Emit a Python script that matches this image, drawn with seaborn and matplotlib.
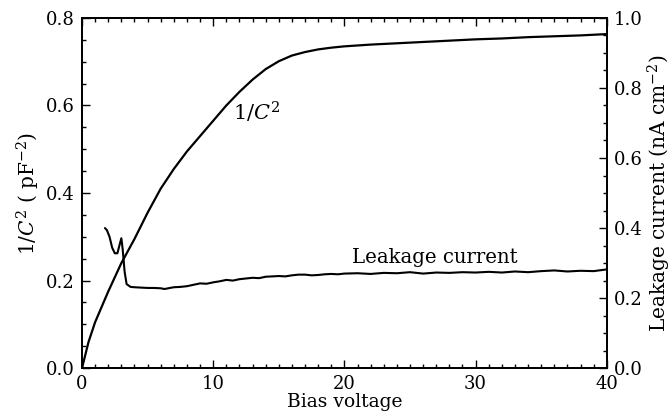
import matplotlib
matplotlib.use("Agg")
import matplotlib.pyplot as plt
from matplotlib.ticker import MultipleLocator
import seaborn as sns
import pandas as pd

# 1/C^2 curve (pF^-2) vs bias voltage
cap_x = [0, 0.5, 1, 1.5, 2, 3, 4, 5, 6, 7, 8, 9, 10, 11, 12, 13, 14, 15, 16, 17,
         18, 19, 20, 22, 24, 26, 28, 30, 32, 34, 36, 38, 40]
cap_y = [0.0, 0.06, 0.105, 0.14, 0.175, 0.24, 0.295, 0.355, 0.41, 0.455, 0.495,
         0.53, 0.565, 0.60, 0.631, 0.659, 0.683, 0.701, 0.714, 0.722, 0.728, 0.732,
         0.735, 0.739, 0.742, 0.745, 0.748, 0.751, 0.753, 0.756, 0.758, 0.760, 0.763]

# Leakage current (nA cm^-2) vs bias voltage
leak_x = [1.75, 1.9, 2.1, 2.3, 2.5, 2.7, 2.85, 3.0, 3.1, 3.25, 3.4, 3.7, 4, 4.5, 5,
          5.5, 6, 6.3, 6.7, 7, 7.5, 8, 8.5, 9, 9.5, 10, 10.5, 11, 11.5, 12, 12.5,
          13, 13.5, 14, 14.5, 15, 15.5, 16, 16.5, 17, 17.5, 18, 18.5, 19, 19.5, 20,
          21, 22, 23, 24, 25, 26, 27, 28, 29, 30, 31, 32, 33, 34, 35, 36, 37, 38,
          39, 40]
leak_y = [0.400, 0.394, 0.375, 0.344, 0.328, 0.328, 0.350, 0.371, 0.340, 0.275,
          0.240, 0.232, 0.231, 0.230, 0.229, 0.229, 0.228, 0.226, 0.229, 0.231,
          0.232, 0.234, 0.238, 0.242, 0.241, 0.245, 0.248, 0.252, 0.250, 0.254,
          0.256, 0.258, 0.257, 0.261, 0.262, 0.263, 0.262, 0.265, 0.267, 0.267,
          0.265, 0.266, 0.268, 0.269, 0.268, 0.270, 0.271, 0.269, 0.272, 0.271,
          0.274, 0.270, 0.273, 0.272, 0.274, 0.273, 0.275, 0.273, 0.276, 0.274,
          0.277, 0.279, 0.276, 0.278, 0.277, 0.282]

x_ticks = [0, 10, 20, 30, 40]
left_ticks = [0.0, 0.2, 0.4, 0.6, 0.8]
right_ticks = [0.0, 0.2, 0.4, 0.6, 0.8, 1.0]

sns.set_style("ticks")
plt.rcParams["font.family"] = ["DejaVu Serif"]
plt.rcParams["mathtext.fontset"] = "dejavuserif"
for k in ["text.color", "axes.labelcolor", "xtick.color", "ytick.color", "axes.edgecolor"]:
    plt.rcParams[k] = "black"

cap_df = pd.DataFrame({"V": cap_x, "C": cap_y})
leak_df = pd.DataFrame({"V": leak_x, "I": leak_y})

fig = plt.figure(figsize=(6.72, 4.16), dpi=100)
ax = fig.add_axes([0.122, 0.115, 0.781, 0.842])
ax2 = ax.twinx()

sns.lineplot(data=cap_df, x="V", y="C", ax=ax, color="black", lw=1.6)
sns.lineplot(data=leak_df, x="V", y="I", ax=ax2, color="black", lw=1.5)

ax.set_xlim(0, 40)
ax.set_ylim(0, 0.8)
ax2.set_ylim(0, 1.0)

ax.set_xticks(x_ticks)
ax.set_xticklabels([str(t) for t in x_ticks])
ax.set_yticks(left_ticks)
ax.set_yticklabels([f"{t:.1f}" for t in left_ticks])
ax2.set_yticks(right_ticks)
ax2.set_yticklabels([f"{t:.1f}" for t in right_ticks])
ax.xaxis.set_minor_locator(MultipleLocator(1))
ax.yaxis.set_minor_locator(MultipleLocator(0.05))
ax2.yaxis.set_minor_locator(MultipleLocator(0.05))

fs = 13
ax.tick_params(which="both", direction="in", top=True, right=False,
               labelsize=fs, width=1.0, pad=5, colors="black")
ax.tick_params(which="major", length=6)
ax.tick_params(which="minor", length=3)
ax2.tick_params(which="both", direction="in", labelsize=fs, width=1.0, pad=5,
                colors="black")
ax2.tick_params(which="major", length=6)
ax2.tick_params(which="minor", length=3)

for a in (ax, ax2):
    for s in a.spines.values():
        s.set_visible(True)
        s.set_linewidth(1.3)
        s.set_color("black")

ax.set_xlabel("Bias voltage", fontsize=13.5, labelpad=0, color="black")
ax.set_ylabel(r"$1/C^2$ ( pF$^{-2}$)", fontsize=14.5, labelpad=3, color="black")
ax2.set_ylabel(r"Leakage current (nA cm$^{-2}$)", fontsize=14.5, labelpad=2,
               color="black")

ax.text(11.5, 0.565, r"$1/C^2$", fontsize=15, color="black")
ax.text(20.6, 0.24, "Leakage current", fontsize=14.2, color="black")

fig.savefig("out.png", dpi=100)
